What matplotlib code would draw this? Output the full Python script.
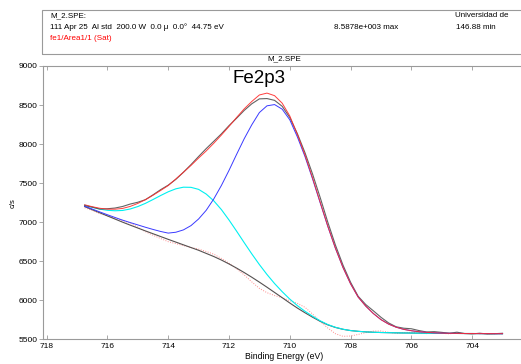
import numpy as np
import matplotlib
matplotlib.use("Agg")
import matplotlib.pyplot as plt
from matplotlib.patches import Rectangle

plt.rcParams['font.family'] = ['Liberation Sans', 'DejaVu Sans']

# binding energy grid (eV)
be = [716.75, 716.5, 716.25, 716.0, 715.75, 715.5, 715.25, 715.0, 714.75, 714.5,
      714.25, 714.0, 713.75, 713.5, 713.25, 713.0, 712.75, 712.5, 712.25, 712.0,
      711.75, 711.5, 711.25, 711.0, 710.75, 710.5, 710.25, 710.0, 709.75, 709.5,
      709.25, 709.0, 708.75, 708.5, 708.25, 708.0, 707.75, 707.5, 707.25, 707.0,
      706.75, 706.5, 706.25, 706.0, 705.75, 705.5, 705.25, 705.0, 704.75, 704.5,
      704.25, 704.0, 703.75, 703.5, 703.25, 703.0]

# Shirley background (c/s)
bg = [7200, 7160, 7120, 7080, 7040, 7000, 6962, 6925, 6888, 6852,
      6816, 6780, 6745, 6710, 6675, 6640, 6600, 6560, 6515, 6465,
      6412, 6355, 6295, 6232, 6167, 6100, 6033, 5965, 5900, 5840,
      5783, 5730, 5685, 5652, 5628, 5612, 5602, 5595, 5590, 5587,
      5585, 5583, 5581, 5580, 5579, 5578, 5577, 5576, 5575, 5575,
      5574, 5574, 5573, 5573, 5572, 5572]

# satellite component, height above background
sat = [18, 30, 47, 72, 106, 150, 207, 275, 353, 438,
       525, 609, 682, 738, 771, 780, 760, 713, 646, 563,
       473, 383, 299, 225, 163, 114, 77, 50, 31, 19,
       12, 7, 4, 2, 1, 0, 0, 0, 0, 0,
       0, 0, 0, 0, 0, 0, 0, 0, 0, 0,
       0, 0, 0, 0, 0, 0]

# main Fe2p3 component, height above background
main = [5, 8, 11, 15, 20, 26, 33, 40, 47, 55,
        65, 80, 126, 191, 281, 401, 552, 738, 955, 1198,
        1456, 1713, 1952, 2172, 2323, 2406, 2414, 2346, 2192, 2001,
        1771, 1519, 1262, 1015, 792, 599, 439, 330, 240, 165,
        110, 72, 46, 30, 18, 11, 6, 3, 2, 1,
        0, 0, 0, 0, 0, 0]

# raw counts, offset from the fitted envelope
raw_dev = [-10, -5, -10, 5, 15, 25, 30, 15, 0, 5,
           10, 5, -5, 0, 10, 20, 30, 25, 15, 10,
           -10, -20, -30, -50, -70, -60, -40, -20, 10, 30,
           50, 60, 50, 40, 30, 20, 10, 20, 35, 30,
           15, 5, 15, 25, 15, 5, 15, 10, 0, 15,
           0, -5, 5, -5, 0, 5]

# residual trace, offset from background
resid = [-15, -10, -10, 0, 10, 20, 25, 10, -10, -20,
         -25, -30, -20, -10, 0, 15, 25, 30, 20, 10,
         -10, -30, -60, -80, -70, -40, 0, 30, 60, 70,
         40, 0, -40, -80, -90, -70, -40, -10, 15, 20,
         5, -5, 5, 10, 0, -5, 5, 0, -5, 5,
         0, 0, 0, 0, 0, 0]

x = np.array(be)
bg = np.array(bg)
sat_line = bg + np.array(sat)
main_line = bg + np.array(main)
env = bg + np.array(sat) + np.array(main)
raw = env + np.array(raw_dev)
res_line = bg + np.array(resid)

W, H = 521, 364
fig = plt.figure(figsize=(W / 100, H / 100), dpi=100)

# header box
fig.patches.append(Rectangle((42 / W, 1 - 53.5 / H), 1.0, 43 / H, transform=fig.transFigure,
                             fill=False, edgecolor='#9a9a9a', linewidth=0.8))
fs = 5.8
fig.text(50 / W, 1 - 15.7 / H, "M_2.SPE:", fontsize=fs, va='center')
fig.text(50 / W, 1 - 27.3 / H, "111 Apr 25  Al std  200.0 W  0.0 \u03bc  0.0\u00b0  44.75 eV",
         fontsize=fs, va='center')
fig.text(50 / W, 1 - 38.3 / H, "fe1/Area1/1 (Sat)", fontsize=fs, va='center', color='red')
fig.text(334 / W, 1 - 27.3 / H, "8.5878e+003 max", fontsize=fs, va='center')
fig.text(455 / W, 1 - 15.7 / H, "Universidad de", fontsize=fs, va='center')
fig.text(456 / W, 1 - 27.3 / H, "146.88 min", fontsize=fs, va='center')

ax = fig.add_axes([43 / W, (H - 339.3) / H, 482 / W, 273.3 / H])
ax.set_xlim(718.12, 702.26)
ax.set_ylim(5500, 9000)

ax.plot(x, res_line, color='#ff8c8c', lw=0.7, ls=(0, (1, 1.5)))
ax.plot(x, bg, color='#555050', lw=0.8)
ax.plot(x, sat_line, color='#00f0f0', lw=0.8)
ax.plot(x, raw, color='#484848', lw=0.8, alpha=0.85)
ax.plot(x, main_line, color='#3a3aff', lw=0.7)
ax.plot(x, env, color='#ff2a2a', lw=0.7, alpha=0.9)

# peak label
fig.text(259 / W, 1 - 83.3 / H, "Fe2p3", fontsize=13.5, ha='center', va='baseline')

ax.set_title("M_2.SPE", fontsize=fs, pad=4)
ax.set_xlabel("Binding Energy (eV)", fontsize=6.2, labelpad=1)
ax.set_ylabel("c/s", fontsize=5.5, labelpad=1)

ax.set_xticks([718, 716, 714, 712, 710, 708, 706, 704])
ax.set_yticks([5500, 6000, 6500, 7000, 7500, 8000, 8500, 9000])
ax.tick_params(axis='x', direction='in', length=3, width=0.6, color='#9a9a9a',
               labelsize=6, pad=3, top=True)
ax.tick_params(axis='y', direction='out', length=3, width=0.6, color='#9a9a9a',
               labelsize=6, pad=1)
for side in ['left', 'bottom', 'top']:
    ax.spines[side].set_color('#9a9a9a')
    ax.spines[side].set_linewidth(0.8)
ax.spines['right'].set_visible(False)

fig.savefig("out.png", dpi=100)
